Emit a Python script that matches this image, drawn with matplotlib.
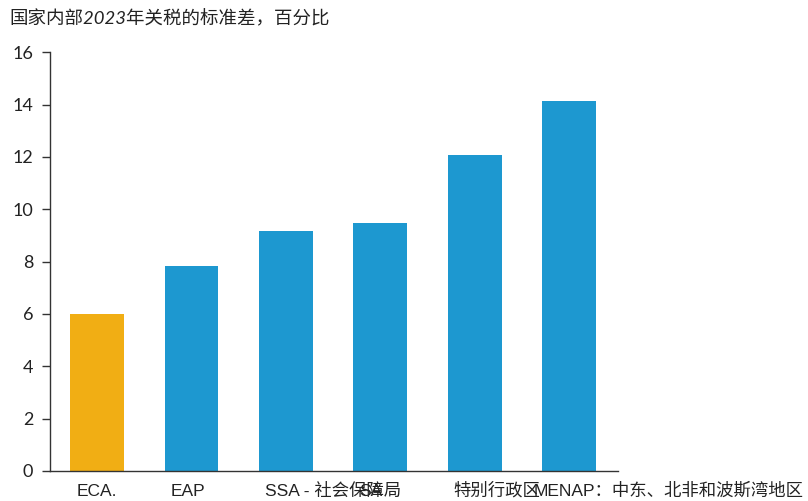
import matplotlib.pyplot as plt
import matplotlib.transforms as mtransforms

plt.rcParams['font.family'] = ['Lato', 'Noto Sans CJK SC', 'DejaVu Sans']

categories = ["ECA.", "EAP", "SSA - 社会保障局", "SA", "特别行政区", "MENAP：中东、北非和波斯湾地区"]
values = [6.0, 7.83, 9.17, 9.48, 12.07, 14.13]
colors = ["#F1AE14", "#1D98D0", "#1D98D0", "#1D98D0", "#1D98D0", "#1D98D0"]
yticks = [0, 2, 4, 6, 8, 10, 12, 14, 16]

fig = plt.figure(figsize=(8.08, 5.01), dpi=100)
ax = fig.add_axes([0.0619, 0.0599, 0.703, 0.836])

x = range(len(categories))
ax.bar(x, values, width=0.57, color=colors)

ax.set_xlim(-0.5, 5.52)
ax.set_ylim(0, 16)
ax.set_yticks(yticks)
ax.tick_params(axis='y', labelsize=13, length=6, width=1, color='#333333',
               labelcolor='#222222', pad=6)
ax.set_xticks(list(x))
ax.set_xticklabels(categories, fontsize=12.5, color='#222222',
                   family=['Liberation Sans', 'Noto Sans CJK SC'])
ax.tick_params(axis='x', length=0, pad=18)

# labels start a bit left of the bar centre, all on one baseline
shifts = [-21, -21, -21, -21, -21, -35]
for lbl, sh in zip(ax.get_xticklabels(), shifts):
    offset = mtransforms.ScaledTranslation(sh / 100, 0, fig.dpi_scale_trans)
    lbl.set_horizontalalignment('left')
    lbl.set_verticalalignment('baseline')
    lbl.set_transform(lbl.get_transform() + offset)

for s in ['top', 'right']:
    ax.spines[s].set_visible(False)
for s in ['left', 'bottom']:
    ax.spines[s].set_color('#333333')
    ax.spines[s].set_linewidth(1)

fig.text(0.012, 0.963, "国家内部2023年关税的标准差，百分比", fontsize=13.3, style='italic',
         color='#222222', va='center', ha='left')

fig.savefig("out.png", dpi=100)
